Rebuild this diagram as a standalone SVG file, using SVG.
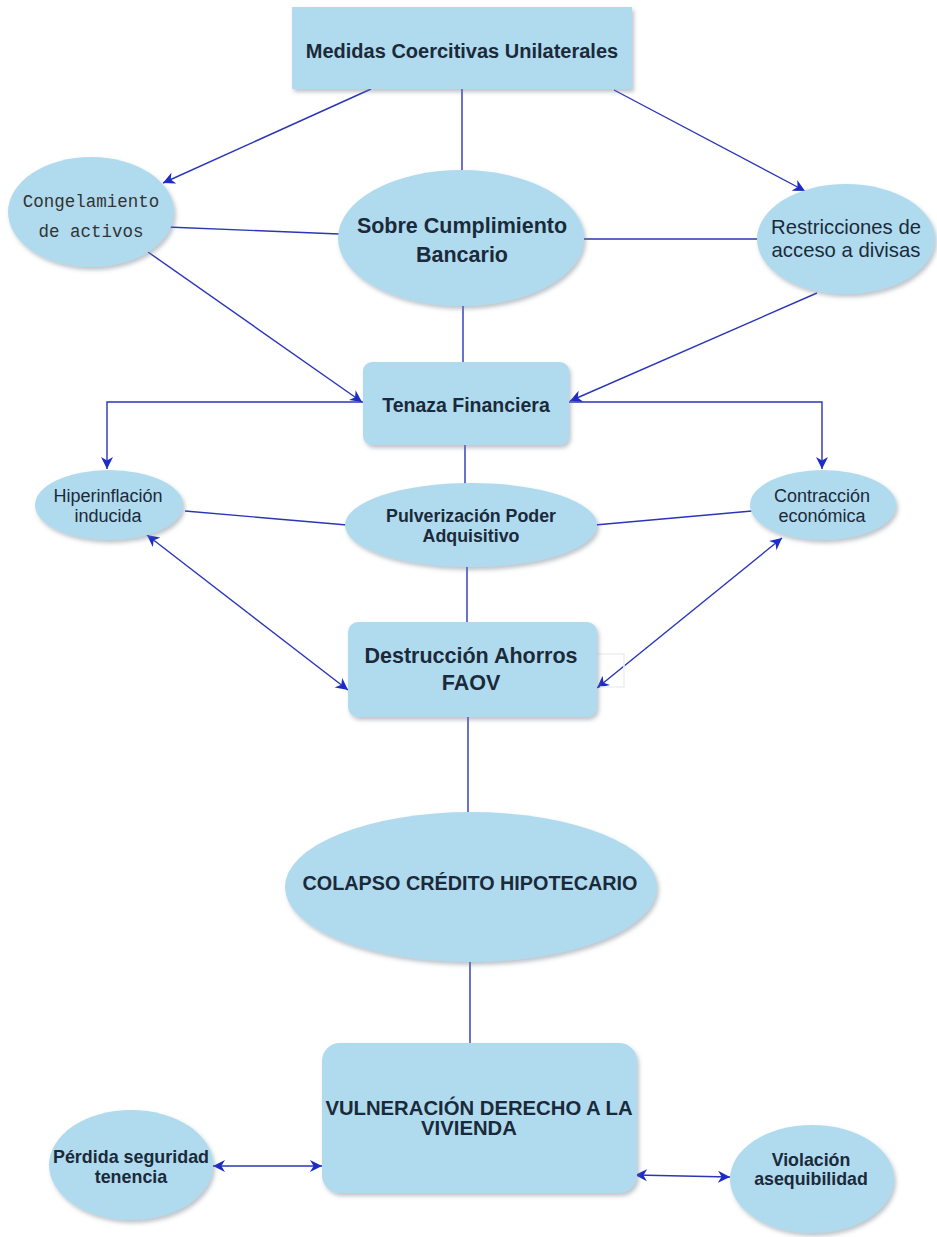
<svg xmlns="http://www.w3.org/2000/svg" width="937" height="1237" viewBox="0 0 937 1237">
<defs>
<filter id="sh" x="-10%" y="-10%" width="130%" height="130%">
<feDropShadow dx="2" dy="3" stdDeviation="2" flood-color="#6b7b8a" flood-opacity="0.45"/>
</filter>
<marker id="arr" viewBox="0 0 10 10" refX="10" refY="5" markerWidth="12" markerHeight="12" markerUnits="userSpaceOnUse" orient="auto-start-reverse">
<path d="M0,0 L10,5 L0,10 L3,5 z" fill="#1c2cc4"/>
</marker>
</defs>
<style>
.nd{fill:#b0dbef;filter:url(#sh)}
.ln{fill:none;stroke:#2a35b8;stroke-width:1.4}
.t{font-family:"Liberation Sans",Arial,sans-serif;text-anchor:middle;fill:#1b2a3a}
.b{font-weight:bold}
.m{font-family:"Liberation Mono","DejaVu Sans Mono",monospace;fill:#333}
</style>
<rect width="937" height="1237" fill="#ffffff"/>
<g id="connectors">
<line class="ln" x1="371" y1="89" x2="163" y2="183" marker-end="url(#arr)"/>
<line class="ln" x1="462" y1="89" x2="462" y2="171"/>
<line class="ln" x1="614" y1="90" x2="805" y2="191" marker-end="url(#arr)"/>
<line class="ln" x1="167" y1="227" x2="339" y2="234"/>
<line class="ln" x1="148" y1="252" x2="362" y2="402" marker-end="url(#arr)"/>
<line class="ln" x1="584" y1="239" x2="758" y2="239"/>
<line class="ln" x1="817" y1="293" x2="570" y2="401" stroke-width="2.2" marker-end="url(#arr)"/>
<line class="ln" x1="463" y1="306" x2="463" y2="362"/>
<polyline class="ln" points="363,402 107,402 107,469" marker-end="url(#arr)"/>
<polyline class="ln" points="569,402 822,402 822,469" marker-end="url(#arr)"/>
<line class="ln" x1="185" y1="511" x2="347" y2="525"/>
<line class="ln" x1="465" y1="445" x2="465" y2="484"/>
<line class="ln" x1="595" y1="525" x2="752" y2="511"/>
<line class="ln" x1="467" y1="566" x2="467" y2="622"/>
<line class="ln" x1="147" y1="535" x2="348" y2="690" marker-start="url(#arr)" marker-end="url(#arr)"/>
<line class="ln" x1="782" y1="538" x2="597" y2="688" marker-start="url(#arr)" marker-end="url(#arr)"/>
<polyline points="597,654 624,654 624,687 600,687" fill="none" stroke="#eeeff2" stroke-width="1.5"/>
<line class="ln" x1="468" y1="717" x2="468" y2="812"/>
<line class="ln" x1="470" y1="962" x2="470" y2="1043"/>
<line class="ln" x1="213" y1="1166" x2="322" y2="1166" marker-start="url(#arr)" marker-end="url(#arr)"/>
<line class="ln" x1="635" y1="1175" x2="730" y2="1177" marker-start="url(#arr)" marker-end="url(#arr)"/>
</g>
<g id="n-medidas">
<rect class="nd" x="292" y="7" width="340" height="82"/>
<text class="t b" x="462" y="58" font-size="20">Medidas Coercitivas Unilaterales</text>
</g>
<g id="n-congelamiento">
<ellipse class="nd" cx="91" cy="212" rx="83" ry="55"/>
<text class="t m" x="91" y="207" font-size="17.5">Congelamiento</text>
<text class="t m" x="91" y="237" font-size="17.5">de activos</text>
</g>
<g id="n-sobre">
<ellipse class="nd" cx="461" cy="238" rx="123" ry="68"/>
<text class="t b" x="462" y="233" font-size="21.5">Sobre Cumplimiento</text>
<text class="t b" x="462" y="262" font-size="21.5">Bancario</text>
</g>
<g id="n-restricciones">
<ellipse class="nd" cx="846" cy="239" rx="89" ry="55"/>
<text class="t" x="846" y="234" font-size="20.3" fill="#2a2a2a">Restricciones de</text>
<text class="t" x="846" y="257" font-size="20.3" fill="#2a2a2a">acceso a divisas</text>
</g>
<g id="n-tenaza">
<rect class="nd" x="363" y="362" width="206" height="83" rx="9"/>
<text class="t b" x="466" y="412" font-size="19.5">Tenaza Financiera</text>
</g>
<g id="n-hiper">
<ellipse class="nd" cx="109" cy="505" rx="74" ry="35"/>
<text class="t" x="108" y="502" font-size="18" fill="#2b3a4a">Hiperinflación</text>
<text class="t" x="108" y="522" font-size="18" fill="#2b3a4a">inducida</text>
</g>
<g id="n-pulver">
<ellipse class="nd" cx="471" cy="525" rx="126" ry="42"/>
<text class="t b" x="471" y="522" font-size="17.8" fill="#2b3a4a">Pulverización Poder</text>
<text class="t b" x="471" y="542" font-size="17.8" fill="#2b3a4a">Adquisitivo</text>
</g>
<g id="n-contraccion">
<ellipse class="nd" cx="823" cy="505" rx="73" ry="35"/>
<text class="t" x="822" y="502" font-size="18">Contracción</text>
<text class="t" x="822" y="522" font-size="18">económica</text>
</g>
<g id="n-destruccion">
<rect class="nd" x="348" y="622" width="249" height="95" rx="10"/>
<text class="t b" x="471" y="663" font-size="21.5">Destrucción Ahorros</text>
<text class="t b" x="471" y="690" font-size="21.5">FAOV</text>
</g>
<g id="n-colapso">
<ellipse class="nd" cx="471" cy="887" rx="186" ry="75"/>
<text class="t b" x="470" y="890" font-size="19.8">COLAPSO CRÉDITO HIPOTECARIO</text>
</g>
<g id="n-vulneracion">
<rect class="nd" x="322" y="1043" width="315" height="150" rx="18"/>
<text class="t b" x="479" y="1115" font-size="20.3" fill="#111">VULNERACIÓN DERECHO A LA</text>
<text class="t b" x="469" y="1135" font-size="20.3" fill="#111">VIVIENDA</text>
</g>
<g id="n-perdida">
<ellipse class="nd" cx="131" cy="1165" rx="82" ry="55"/>
<text class="t b" x="131" y="1163" font-size="17.9">Pérdida seguridad</text>
<text class="t b" x="131" y="1183" font-size="17.9">tenencia</text>
</g>
<g id="n-violacion">
<ellipse class="nd" cx="812" cy="1179" rx="82" ry="54"/>
<text class="t b" x="811" y="1166" font-size="17.8">Violación</text>
<text class="t b" x="811" y="1185" font-size="17.8">asequibilidad</text>
</g>
</svg>
